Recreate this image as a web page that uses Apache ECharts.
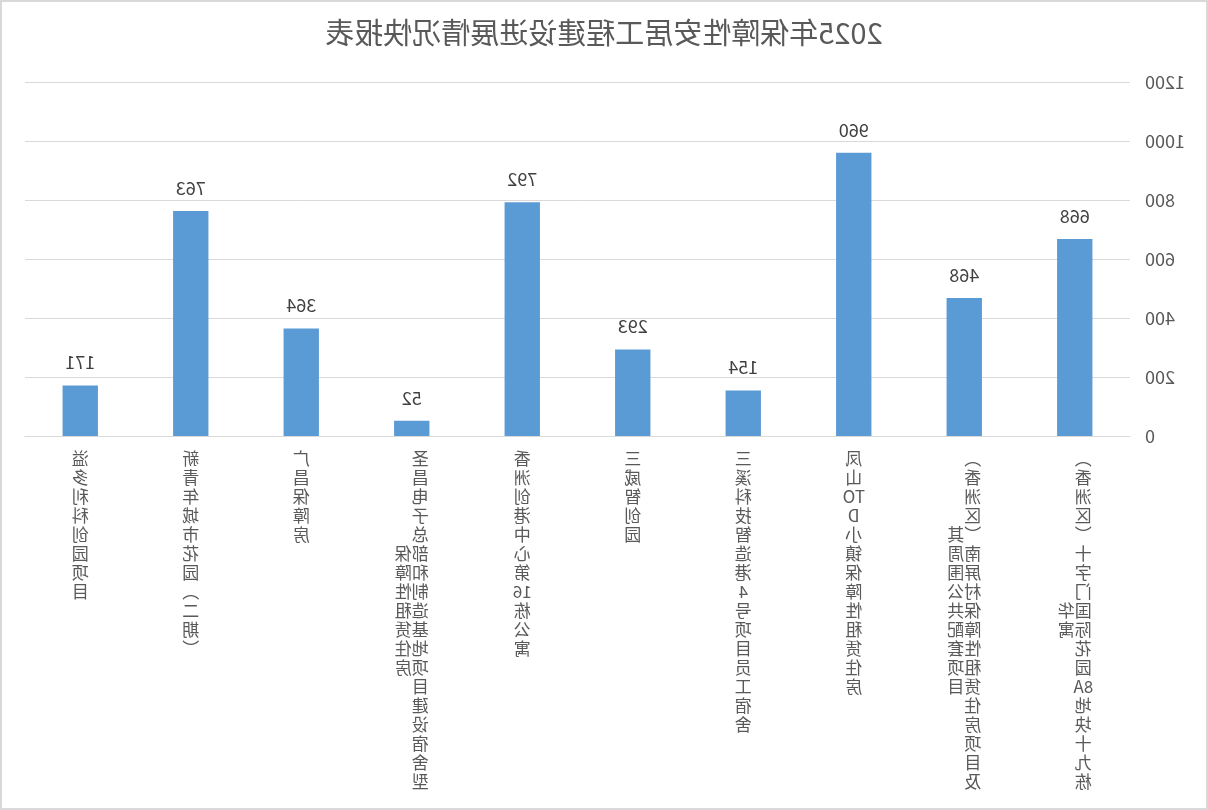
<!DOCTYPE html>
<html>
<head>
<meta charset="utf-8">
<title>2025年保障性安居工程建设进展情况快报表</title>
<script src="https://cdn.jsdelivr.net/npm/echarts@6/dist/echarts.min.js"></script>
<style>
    html, body { margin: 0; padding: 0; background: #fff; }
    #chart {
        width: 1208px;
        height: 810px;
        box-sizing: border-box;
        border: 2px solid #d9d9d9;
        /* the reference is drawn mirrored */
        transform: scaleX(-1);
    }
</style>
</head>
<body>
<div id="chart"></div>
<script>
var chartTitle = '2025年保障性安居工程建设进展情况快报表';

var categories = [
    '（香洲区）十字门国际花园8A地块十九栋华寓',
    '（香洲区）南屏村保障性租赁住房项目及其周围公共配套项目',
    '凤山TOD小镇保障性租赁住房',
    '三溪科技智造港4号项目员工宿舍',
    '三威智创园',
    '香洲创港中心第16栋公寓',
    '圣昌电子总部和制造基地项目建设宿舍型保障性租赁住房',
    '广昌保障房',
    '新青年城市花园（二期）',
    '溢多利科创园项目'
];

var values = [668, 468, 960, 154, 293, 792, 52, 364, 763, 171];

var yTicks = [0, 200, 400, 600, 800, 1000, 1200];

var FONT = '"Noto Sans CJK SC", "Noto Sans", sans-serif';
var MAX_ROWS = 18;

// stacked (vertical) text, like Excel's "stacked" orientation;
// a second column is centred against the first one
var stackLabel = function (name) {
    var tokens = [];
    var ascii = '';
    var flush = function () {
        for (var k = 0; k < ascii.length; k += 2) {
            tokens.push(ascii.substr(k, 2));
        }
        ascii = '';
    };
    for (var i = 0; i < name.length; i++) {
        var ch = name[i];
        if (/[\x00-\x7f]/.test(ch)) {
            ascii += ch;
            continue;
        }
        flush();
        if (ch === '（') ch = '\ufe35';
        if (ch === '）') ch = '\ufe36';
        tokens.push(ch);
    }
    flush();

    var col1 = tokens.slice(0, MAX_ROWS);
    var col2 = tokens.slice(MAX_ROWS);
    if (!col2.length) {
        return col1.join('\n');
    }
    var offset = Math.floor((col1.length - col2.length) / 2);
    var rows = [];
    for (var r = 0; r < col1.length; r++) {
        rows.push(col1[r] + (col2[r - offset] || '\u3000'));
    }
    return rows.join('\n');
};

var myChart = echarts.init(document.getElementById('chart'));

myChart.setOption({
    backgroundColor: '#fff',
    textStyle: { fontFamily: FONT },
    title: {
        text: chartTitle,
        left: 'center',
        top: 11,
        textStyle: {
            fontFamily: FONT,
            fontSize: 29,
            fontWeight: 'normal',
            color: '#595959'
        }
    },
    grid: {
        left: 76,
        right: 23,
        top: 80,
        bottom: 372,
        containLabel: false
    },
    xAxis: {
        type: 'category',
        data: categories,
        axisTick: { show: false },
        axisLine: { lineStyle: { color: '#d9d9d9', width: 1 } },
        axisLabel: {
            interval: 0,
            margin: 13,
            color: '#595959',
            fontSize: 17,
            lineHeight: 19,
            fontFamily: FONT,
            formatter: stackLabel
        }
    },
    yAxis: {
        type: 'value',
        min: yTicks[0],
        max: yTicks[yTicks.length - 1],
        interval: yTicks[1] - yTicks[0],
        axisLine: { show: false },
        axisTick: { show: false },
        splitLine: { lineStyle: { color: '#d9d9d9', width: 1 } },
        axisLabel: {
            margin: 15,
            color: '#595959',
            fontSize: 18,
            fontFamily: FONT,
            formatter: function (v) { return String(v); }
        }
    },
    series: [{
        type: 'bar',
        data: values,
        barWidth: '32%',
        itemStyle: { color: '#5b9bd5' },
        label: {
            show: true,
            position: 'top',
            distance: 14,
            color: '#404040',
            fontSize: 18,
            fontFamily: FONT
        }
    }],
    animation: false
});

window.addEventListener('resize', function () {
    myChart.resize();
});
</script>
</body>
</html>
